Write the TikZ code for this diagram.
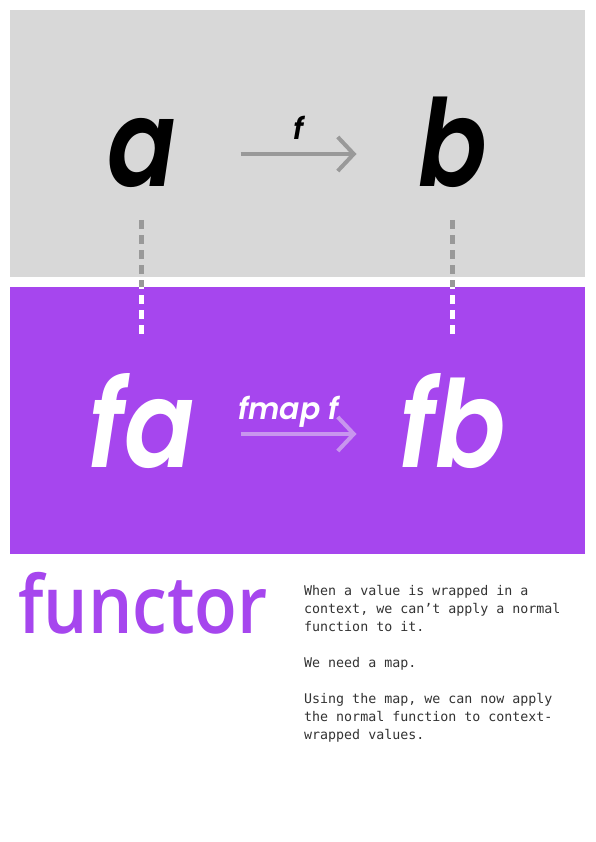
\documentclass[tikz,border=0pt]{standalone}
\usepackage{fontspec}
\newfontfamily\bigfont{Poppins}[UprightFont=*-SemiBold, ItalicFont=*-SemiBold Italic]
\newfontfamily\wordfont{Open Sans}[UprightFont=* Semibold]
\newfontfamily\codefont{DejaVu Sans Mono}
\usetikzlibrary{arrows.meta}
\definecolor{bggray}{HTML}{D8D8D8}
\definecolor{midgray}{HTML}{999999}
\definecolor{fpurple}{HTML}{A646EE}
\definecolor{lightpurple}{HTML}{C896EE}
\definecolor{codegray}{HTML}{333333}
\tikzset{
  letter/.style={inner sep=0pt, outer sep=0pt, text height=66pt, text depth=0pt,
    font=\bigfont\itshape\fontsize{121}{121}\selectfont},
  leftletter/.style={letter, minimum width=198pt},
  rightletter/.style={letter, minimum width=192pt},
  maparrow/.style={line width=4pt, -{Straight Barb[length=16pt,width=34pt,line width=4pt]}},
  maplabel/.style={anchor=base, inner sep=0pt, font=\bigfont\itshape\fontsize{30}{30}\selectfont},
  dashline/.style={line width=4.5pt, dash pattern=on 9pt off 6pt, shorten <=33pt, shorten >=67pt}
}
\begin{document}
\begin{tikzpicture}[x=1pt,y=1pt]
\useasboundingbox (0,0) rectangle (595,-842);
\fill[white] (0,0) rectangle (595,-842);
\fill[bggray] (10,-10) rectangle (585,-277);
\fill[fpurple] (10,-287) rectangle (585,-554);

\node[leftletter] (a) at (141.5,-154) {\scalebox{0.84}[1]{a}};
\node[rightletter] (b) at (452.5,-154) {\scalebox{0.84}[1]{b}};
\node[leftletter, text=white] (fa) at (141.5,-434) {\scalebox{0.86}[1]{fa}};
\node[rightletter, text=white] (fb) at (452.5,-434) {\scalebox{0.86}[1]{fb}};

\draw[maparrow, midgray] (a) -- node[maplabel, yshift=14.5pt, text=black] {f} (b);
\draw[maparrow, lightpurple] (fa) -- node[maplabel, yshift=14.5pt, xshift=-10pt, text=white] {fmap f} (fb);

\draw[dashline, midgray] (a) -- (fa);
\draw[dashline, midgray] (b) -- (fb);
\begin{scope}
  \clip (10,-287) rectangle (585,-554);
  \draw[dashline, white] (a) -- (fa);
  \draw[dashline, white] (b) -- (fb);
\end{scope}

\node[anchor=base west, inner sep=0pt, text=fpurple, font=\wordfont\fontsize{80}{80}\selectfont] (word) at (18,-633) {\scalebox{0.875}[1]{functor}};

\node[anchor=north west, inner sep=0pt, align=left, text=codegray,
  font=\codefont\fontsize{13.3}{18}\selectfont] (notes) at (304,-585)
  {When a value is wrapped in a\\
   context, we can’t apply a normal\\
   function to it.\\[18pt]
   We need a map.\\[18pt]
   Using the map, we can now apply\\
   the normal function to context-\\
   wrapped values.};
\end{tikzpicture}
\end{document}
